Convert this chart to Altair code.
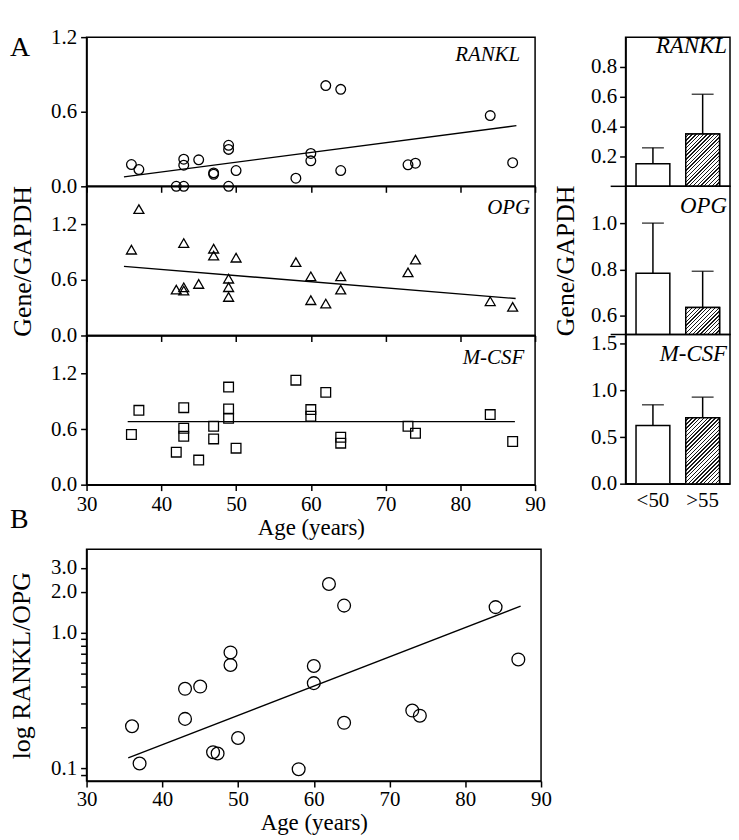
import altair as alt
import pandas as pd

FONT = "Liberation Serif"

# ---------------- Panel A: scatter data (age vs Gene/GAPDH) ----------------
ages = [36, 37, 42, 43, 43, 43, 45, 47, 47, 49, 49, 49, 50, 58, 60, 60, 62, 64, 64, 73, 74, 84, 87]
rankl = [0.175, 0.135, 0.0, 0.0, 0.218, 0.17, 0.213, 0.108, 0.097, 0.33, 0.297, 0.0, 0.127,
         0.065, 0.264, 0.205, 0.81, 0.78, 0.127, 0.173, 0.186, 0.569, 0.19]
opg = [0.924, 1.361, 0.494, 0.996, 0.519, 0.484, 0.555, 0.935, 0.86, 0.612, 0.52, 0.415, 0.838,
       0.79, 0.637, 0.38, 0.344, 0.637, 0.494, 0.68, 0.817, 0.369, 0.308]
mcsf = [0.541, 0.802, 0.351, 0.831, 0.609, 0.523, 0.265, 0.63, 0.494, 1.053, 0.817, 0.716, 0.394,
        1.128, 0.81, 0.738, 0.996, 0.512, 0.448, 0.63, 0.555, 0.756, 0.466]

rankl_fit_age = [35.0, 87.5]
rankl_fit = [0.076, 0.488]
opg_fit_age = [35.0, 87.4]
opg_fit = [0.745, 0.398]
mcsf_fit_age = [35.5, 87.3]
mcsf_fit = [0.68, 0.68]

# ---------------- Panel A: bar data (<50 vs >55) ----------------
groups = ["<50", ">55"]
rankl_mean = [0.152, 0.35]
rankl_upper = [0.258, 0.617]
opg_mean = [0.785, 0.637]
opg_upper = [1.001, 0.793]
mcsf_mean = [0.625, 0.707]
mcsf_upper = [0.846, 0.928]

# ---------------- Panel B: log RANKL/OPG vs age ----------------
b_ages = [36, 37, 43, 43, 45, 46.7, 47.3, 49, 49, 50, 58, 60, 60, 62, 64, 64, 73, 74, 84, 87]
b_ratio = [0.205, 0.109, 0.386, 0.232, 0.401, 0.132, 0.129, 0.715, 0.578, 0.168, 0.099, 0.568,
           0.425, 2.28, 1.58, 0.217, 0.267, 0.245, 1.54, 0.635]
b_fit_age = [35.5, 87.3]
b_fit = [0.12, 1.565]

# ---------------- layout / style ----------------
LW, PH = 451, 150        # left scatter panels
BW = 105                 # bar panels
BPW, BPH = 457, 233      # panel B
FS = 21                  # tick label size
YTFS = 26                # vertical axis title size
XTFS = 23                # horizontal axis title size
LFS = 21                 # italic gene label size (scatter)
BLFS = 23                # italic gene label size (bars)
X_TICKS = [30, 40, 50, 60, 70, 80, 90]
PAD_IN, PAD_OUT = 0.32, 0.21


def label_expr(shown, fmt=".1f"):
    arr = ",".join(str(v) for v in shown)
    return f"indexof([{arr}], datum.value) >= 0 ? format(datum.value, '{fmt}') : ''"


def gene_label(name, x, y, size):
    return alt.Chart(pd.DataFrame({"t": [name]})).mark_text(
        font=FONT, fontStyle="italic", fontSize=size, align="right",
        baseline="alphabetic", color="black"
    ).encode(x=alt.value(x), y=alt.value(y), text="t:N")


def letter(txt, x, y):
    return alt.Chart(pd.DataFrame({"t": [txt]})).mark_text(
        font=FONT, fontSize=28, align="left", baseline="alphabetic", color="black"
    ).encode(x=alt.value(x), y=alt.value(y), text="t:N")


def scatter_panel(vals, shape, size, name, name_xy, ydom, fit_x, fit_y, bottom=False,
                  ytitle=None, extra=()):
    df = pd.DataFrame({"age": ages, "v": vals})
    xaxis = alt.Axis(values=X_TICKS, labels=bottom, ticks=True, labelFlush=False,
                     title="Age (years)" if bottom else None,
                     labelPadding=3, titlePadding=2, titleFontSize=XTFS)
    yaxis = alt.Axis(values=[0, 0.3, 0.6, 0.9, 1.2], labelExpr=label_expr([0, 0.6, 1.2]),
                     title=ytitle, titlePadding=15, labelPadding=4, titleFontSize=YTFS)
    x = alt.X("age:Q", scale=alt.Scale(domain=[30, 90], nice=False, zero=False), axis=xaxis)
    y = alt.Y("v:Q", scale=alt.Scale(domain=ydom, nice=False, zero=False), axis=yaxis)
    pts = alt.Chart(df).mark_point(
        shape=shape, size=size, filled=False, color="black", strokeWidth=1.3, opacity=1
    ).encode(x=x, y=y)
    fit = alt.Chart(pd.DataFrame({"age": fit_x, "v": fit_y})).mark_line(
        color="black", strokeWidth=1.4
    ).encode(x="age:Q", y="v:Q")
    layers = [pts, fit, gene_label(name, name_xy[0], name_xy[1], LFS)] + list(extra)
    return alt.layer(*layers).properties(width=LW, height=PH)


def hatch(h_px, w_px, period=3.8, ink=0.36):
    # diagonal "///" stripes via a hard-stop linear gradient (t = 0 at top-left, 1 at bottom-right)
    s = (w_px + h_px) / (w_px * w_px + h_px * h_px)
    dx, dy = w_px * s, h_px * s
    n = max(1, int(round((w_px + h_px) / period)))
    stops = []
    for k in range(n):
        a, b, c = k / n, (k + 1 - ink) / n, (k + 1) / n
        stops += [{"offset": a, "color": "white"}, {"offset": b, "color": "white"},
                  {"offset": b, "color": "#1a1a1a"}, {"offset": c, "color": "#1a1a1a"}]
    return {"gradient": "linear", "x1": 0, "y1": 0, "x2": dx, "y2": dy, "stops": stops}


def bar_panel(means, uppers, name, name_y, ydom, yvals, ylabels, h, bottom=False, ytitle=None,
              ext_rule=False):
    df = pd.DataFrame({"g": groups, "m": means, "u": uppers})
    xs = alt.Scale(domain=groups, paddingInner=PAD_IN, paddingOuter=PAD_OUT)
    xax = alt.Axis(title=None, ticks=False, labelAngle=0, labelPadding=6) if bottom else None
    x = alt.X("g:N", scale=xs, axis=xax, sort=groups)
    ys = alt.Scale(domain=ydom, nice=False, zero=False)
    yax = alt.Axis(values=yvals, labelExpr=label_expr(ylabels), title=ytitle,
                   titlePadding=12, labelPadding=3, titleFontSize=YTFS)
    base = alt.Chart(df)
    bars = base.mark_bar(fill="white", stroke="black", strokeWidth=1.5, clip=True).encode(
        x=x, y=alt.Y("m:Q", scale=ys, axis=yax), y2=alt.datum(ydom[0]))
    step = BW / (len(groups) - PAD_IN + 2 * PAD_OUT)
    bw = step * (1 - PAD_IN)
    hpx = (means[1] - ydom[0]) / (ydom[1] - ydom[0]) * h
    hb = base.transform_filter(alt.datum.g == groups[1]).mark_bar(
        fill=hatch(hpx, bw), stroke="black", strokeWidth=1.5, clip=True
    ).encode(x=x, y="m:Q", y2=alt.datum(ydom[0]))
    err = base.mark_rule(color="black", strokeWidth=1.5).encode(x=x, y="m:Q", y2="u:Q")
    cap = base.mark_tick(color="black", thickness=1.5, size=22, orient="horizontal").encode(
        x=x, y="u:Q")
    layers = [bars, hb, err, cap, gene_label(name, BW - 3, name_y, BLFS)]
    if ext_rule:
        layers.append(
            alt.Chart(pd.DataFrame({"a": [0]})).mark_rule(color="black", strokeWidth=1.5)
            .encode(x=alt.value(-15), x2=alt.value(0), y=alt.value(h))
        )
    return alt.layer(*layers).properties(width=BW, height=h)


# ---------------- build panels ----------------
r_sc = scatter_panel(rankl, "circle", 95, "RANKL", (LW - 15, 24), [0, 1.2],
                     rankl_fit_age, rankl_fit, extra=[letter("A", -77, 19)])
o_sc = scatter_panel(opg, "triangle-up", 100, "OPG", (LW - 5, 28), [0, 1.607],
                     opg_fit_age, opg_fit, ytitle="Gene/GAPDH")
m_sc = scatter_panel(mcsf, "square", 95, "M-CSF", (LW - 11, 29), [0, 1.61],
                     mcsf_fit_age, mcsf_fit, bottom=True, extra=[letter("B", -77, 194)])

r_bar = bar_panel(rankl_mean, rankl_upper, "RANKL", 16, [0, 1.0], [0.2, 0.4, 0.6, 0.8],
                  [0.2, 0.4, 0.6, 0.8], 150, ext_rule=True)
o_bar = bar_panel(opg_mean, opg_upper, "OPG", 27, [0.52, 1.16], [0.6, 0.7, 0.8, 0.9, 1.0, 1.1],
                  [0.6, 0.8, 1.0], 149, ytitle="Gene/GAPDH", ext_rule=True)
m_bar = bar_panel(mcsf_mean, mcsf_upper, "M-CSF", 27, [0, 1.6],
                  [0, 0.25, 0.5, 0.75, 1.0, 1.25, 1.5], [0, 0.5, 1.0, 1.5], 150, bottom=True)

left = alt.vconcat(r_sc, o_sc, m_sc, spacing=0, bounds="flush")
right = alt.vconcat(r_bar, o_bar, m_bar, spacing=0, bounds="flush")
top = alt.hconcat(left, right, spacing=5)

dfB = pd.DataFrame({"age": b_ages, "r": b_ratio})
xB = alt.X("age:Q", scale=alt.Scale(domain=[30, 90], nice=False, zero=False),
           axis=alt.Axis(values=X_TICKS, title="Age (years)", labelPadding=2, titlePadding=2,
                         labelFlush=False, titleFontSize=XTFS))
log_ticks = [0.09, 0.1, 0.2, 0.3, 0.4, 0.5, 0.6, 0.7, 0.8, 0.9, 1, 2, 3]
yB = alt.Y("r:Q", scale=alt.Scale(type="log", domain=[0.081, 4.1], nice=False),
           axis=alt.Axis(values=log_ticks, labelExpr=label_expr([0.1, 1, 2, 3]),
                         title="log RANKL/OPG", titlePadding=16, labelPadding=4,
                         titleFontSize=YTFS))
ptsB = alt.Chart(dfB).mark_point(shape="circle", size=165, filled=False, color="black",
                                 strokeWidth=1.3, opacity=1).encode(x=xB, y=yB)
fitB = alt.Chart(pd.DataFrame({"age": b_fit_age, "r": b_fit})).mark_line(
    color="black", strokeWidth=1.4).encode(x="age:Q", y="r:Q")
panelB = alt.layer(ptsB, fitB).properties(width=BPW, height=BPH)

chart = alt.vconcat(top, panelB, spacing=8).properties(
    padding={"left": 0, "top": 15, "right": 0, "bottom": 0},
    background="white"
).configure_view(
    stroke="black", strokeWidth=1.5
).configure_axis(
    grid=False, domainColor="black", domainWidth=1.5, tickColor="black", tickWidth=1.5,
    tickSize=6, labelColor="black", titleColor="black", labelFont=FONT, titleFont=FONT,
    titleFontWeight="normal", labelFontSize=FS
)

chart.save("out.html", embed_options={"renderer": "svg", "actions": False})
